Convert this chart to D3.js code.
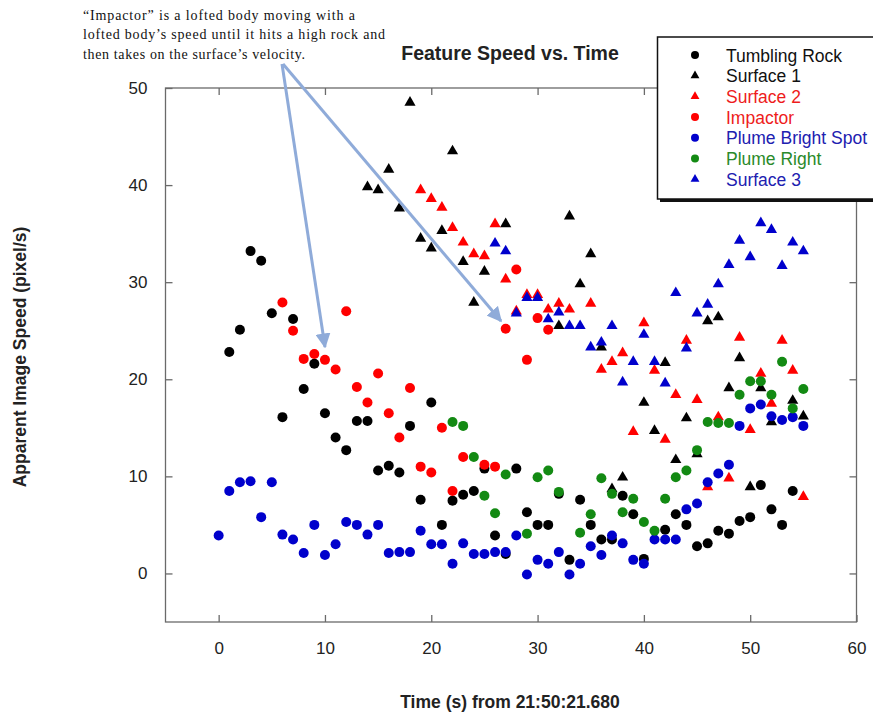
<!DOCTYPE html>
<html>
<head>
<meta charset="utf-8">
<script src="https://cdn.jsdelivr.net/npm/d3@7"></script>
<style>
  html, body { margin: 0; padding: 0; background: #fff; }
  svg { display: block; font-family: Arial, "Liberation Sans", sans-serif; }
</style>
</head>
<body>
<svg id="chart" width="873" height="715"></svg>
<script>
// Feature speed measurements, one sample per second, [time (s), speed (pixel/s)]
const tumblingRock = [
  [1,22.8],[2,25.1],[3,33.2],[4,32.2],[5,26.8],[6,16.1],[7,26.2],[8,19.0],[9,21.6],[10,16.5],
  [11,14.0],[12,12.7],[13,15.7],[14,15.7],[15,10.6],[16,11.1],[17,10.4],[18,15.2],[19,7.6],[20,17.6],
  [21,5.0],[22,7.5],[23,8.1],[24,8.5],[25,10.8],[26,3.9],[27,2.0],[28,10.8],[29,6.3],[30,5.0],
  [31,5.0],[32,8.2],[33,1.4],[34,7.6],[35,5.0],[36,3.5],[37,3.5],[38,8.0],[39,6.1],[40,1.5],
  [42,4.5],[43,6.1],[44,5.0],[45,2.8],[46,3.1],[47,4.4],[48,4.1],[49,5.4],[50,5.8],[51,9.1],
  [52,6.6],[53,5.0],[54,8.5]
];
const surface1 = [
  [14,39.8],[15,39.5],[16,41.6],[17,37.6],[18,48.5],[19,34.5],[20,33.5],[21,35.3],[22,43.5],[23,32.1],
  [24,27.9],[25,31.1],[27,36.0],[32,25.5],[33,36.8],[34,29.8],[35,32.9],[36,23.3],[37,8.7],[38,9.9],
  [40,17.6],[41,14.7],[42,21.7],[43,11.7],[44,16.0],[45,12.3],[46,26.0],[47,26.4],[48,19.1],[49,22.2],
  [50,8.9],[51,19.1],[52,15.6],[54,17.8],[55,16.2]
];
const surface2 = [
  [19,39.5],[20,38.6],[21,37.7],[22,35.6],[23,34.1],[24,32.9],[25,32.7],[26,36.0],[27,30.3],[28,27.0],
  [29,28.7],[30,28.7],[31,27.2],[32,27.8],[33,27.2],[35,27.8],[36,21.0],[37,21.8],[38,22.7],[39,14.6],
  [40,25.8],[41,20.9],[42,13.8],[43,18.4],[44,24.0],[45,17.9],[46,8.9],[47,16.1],[48,9.8],[49,24.3],
  [50,14.8],[51,20.6],[52,17.5],[53,24.0],[54,20.9],[55,7.9]
];
const impactor = [
  [6,27.9],[7,25.0],[8,22.1],[9,22.6],[10,22.0],[11,21.0],[12,27.0],[13,19.2],[14,17.6],[15,20.6],
  [16,16.5],[17,14.0],[18,19.1],[19,11.0],[20,10.4],[21,15.0],[22,8.5],[23,12.0],[25,11.2],[26,11.0],
  [27,25.2],[28,31.3],[29,22.0],[30,26.3],[31,25.1]
];
const plumeBrightSpot = [
  [0,3.9],[1,8.5],[2,9.4],[3,9.5],[4,5.8],[5,9.4],[6,4.0],[7,3.5],[8,2.1],[9,5.0],
  [10,1.9],[11,3.0],[12,5.3],[13,5.0],[14,4.0],[15,5.0],[16,2.1],[17,2.2],[18,2.2],[19,4.4],
  [20,3.0],[21,3.0],[22,1.0],[23,3.1],[24,2.0],[25,2.0],[26,2.2],[27,2.2],[28,3.9],[29,-0.1],
  [30,1.4],[31,1.0],[32,2.2],[33,-0.1],[34,1.0],[35,2.8],[36,1.9],[37,3.9],[38,3.1],[39,1.4],
  [40,1.0],[41,3.5],[42,3.5],[43,3.5],[44,6.6],[45,7.2],[46,9.4],[47,10.3],[48,11.2],[49,15.2],
  [50,17.0],[51,17.4],[52,16.2],[53,15.8],[54,16.1],[55,15.2]
];
const plumeRight = [
  [22,15.6],[23,15.2],[24,12.0],[25,8.0],[26,6.2],[27,10.2],[29,4.1],[30,9.9],[31,10.6],[32,8.4],
  [34,4.2],[35,6.1],[36,9.8],[37,8.2],[38,6.3],[39,7.7],[40,5.3],[41,4.4],[42,7.7],[43,9.9],
  [44,10.6],[45,12.7],[46,15.6],[47,15.5],[48,15.5],[49,18.4],[50,19.8],[51,19.8],[52,18.4],[53,21.8],
  [54,17.0],[55,19.0]
];
const surface3 = [
  [26,34.0],[27,33.2],[28,26.8],[29,28.4],[30,28.4],[31,26.2],[32,26.9],[33,25.5],[34,25.5],[35,23.3],
  [36,23.8],[37,25.5],[38,19.7],[39,21.8],[40,24.6],[41,21.8],[42,19.6],[43,28.9],[44,23.2],[45,26.8],
  [46,27.7],[47,29.8],[48,31.8],[49,34.3],[50,32.6],[51,36.1],[52,35.4],[53,31.7],[54,34.1],[55,33.2]
];

const seriesNames = ["Tumbling Rock","Surface 1","Surface 2","Impactor","Plume Bright Spot","Plume Right","Surface 3"];
const seriesData = [tumblingRock, surface1, surface2, impactor, plumeBrightSpot, plumeRight, surface3];
const seriesShapes = ["circle","triangle","triangle","circle","circle","circle","triangle"];
const seriesColors = ["#000000","#000000","#ff0000","#ff0000","#0000cc","#138a13","#0000cc"];
const labelColors = ["#111111","#111111","#ee1c1c","#ee1c1c","#2020b0","#2a8a2a","#2020b0"];

const xTicks = [0,10,20,30,40,50,60];
const yTicks = [0,10,20,30,40,50];

const titleText = "Feature Speed vs. Time";
const xLabel = "Time (s) from 21:50:21.680";
const yLabel = "Apparent Image Speed (pixel/s)";
const noteLines = [
  "\u201CImpactor\u201D is a lofted body moving with a",
  "lofted body\u2019s speed until it hits a high rock and",
  "then takes on the surface\u2019s velocity."
];

const svg = d3.select("#chart");

const x = d3.scaleLinear().domain([-5, 60]).range([165.5, 856.5]);
const y = d3.scaleLinear().domain([-5, 50]).range([622, 88]);

const frameColor = "#6a6a6a";

// plot frame
svg.append("rect")
  .attr("x", x(-5)).attr("y", y(50))
  .attr("width", x(60) - x(-5)).attr("height", y(-5) - y(50))
  .attr("fill", "none").attr("stroke", frameColor).attr("stroke-width", 1.3);

// axes with inward ticks on all four sides
const tickLen = 7;
const bottomAxis = d3.axisBottom(x).tickValues(xTicks).tickSize(-tickLen).tickPadding(20).tickFormat(d3.format("d"));
const topAxis = d3.axisTop(x).tickValues(xTicks.filter(v => v < 60)).tickSize(-tickLen).tickFormat("");
const leftAxis = d3.axisLeft(y).tickValues(yTicks).tickSize(-tickLen).tickPadding(18).tickFormat(d3.format("d"));
const rightAxis = d3.axisRight(y).tickValues(yTicks).tickSize(-tickLen).tickFormat("");

function styleAxis(g) {
  g.select(".domain").remove();
  g.selectAll(".tick line").attr("stroke", frameColor).attr("stroke-width", 1.3);
  g.selectAll(".tick text").attr("fill", "#222").style("font-size", "17px")
    .style("font-family", "Arial, 'Liberation Sans', sans-serif");
}
svg.append("g").attr("transform", `translate(0,${y(-5)})`).call(bottomAxis).call(styleAxis);
svg.append("g").attr("transform", `translate(0,${y(50)})`).call(topAxis).call(styleAxis);
svg.append("g").attr("transform", `translate(${x(-5)},0)`).call(leftAxis).call(styleAxis);
svg.append("g").attr("transform", `translate(${x(60)},0)`).call(rightAxis).call(styleAxis);

// data markers
const triangle = d3.symbol().type(d3.symbolTriangle).size(54);
seriesData.forEach((data, i) => {
  const g = svg.append("g").attr("class", "series");
  if (seriesShapes[i] === "circle") {
    g.selectAll("circle").data(data).join("circle")
      .attr("cx", d => x(d[0])).attr("cy", d => y(d[1])).attr("r", 5)
      .attr("fill", seriesColors[i]);
  } else {
    g.selectAll("path").data(data).join("path")
      .attr("d", triangle)
      .attr("transform", d => `translate(${x(d[0])},${y(d[1])})`)
      .attr("fill", seriesColors[i]);
  }
});

// title and axis labels
svg.append("text").attr("x", 510).attr("y", 60).attr("text-anchor", "middle")
  .style("font-weight", "bold").style("font-size", "19.5px").attr("fill", "#222").text(titleText);
svg.append("text").attr("x", 510).attr("y", 708).attr("text-anchor", "middle")
  .style("font-weight", "bold").style("font-size", "17.5px").attr("fill", "#222").text(xLabel);
svg.append("text").attr("transform", "translate(26,357) rotate(-90)").attr("text-anchor", "middle")
  .style("font-weight", "bold").style("font-size", "17.5px").attr("fill", "#222").text(yLabel);

// legend box with drop shadow
const legend = svg.append("g");
legend.append("rect").attr("x", 660).attr("y", 40).attr("width", 240).attr("height", 162).attr("fill", "#111");
legend.append("rect").attr("x", 657.5).attr("y", 37).attr("width", 240).attr("height", 162)
  .attr("fill", "#fff").attr("stroke", "#111").attr("stroke-width", 1.5);
const legendSym = d3.symbol().type(d3.symbolTriangle).size(34);
seriesNames.forEach((name, i) => {
  const cy = 55 + i * 20.7;
  if (seriesShapes[i] === "circle") {
    legend.append("circle").attr("cx", 695).attr("cy", cy).attr("r", 4).attr("fill", seriesColors[i]);
  } else {
    legend.append("path").attr("d", legendSym).attr("transform", `translate(695,${cy})`).attr("fill", seriesColors[i]);
  }
  legend.append("text").attr("x", 726).attr("y", cy + 6.5).style("font-size", "17.5px")
    .attr("fill", labelColors[i]).text(name);
});

// annotation note with pointer arrows
const note = svg.append("g").style("font-family", "'Liberation Serif', 'Times New Roman', serif")
  .style("font-size", "14px").attr("fill", "#111");
const noteWidths = [272, 302, 222];
noteLines.forEach((line, i) => {
  note.append("text").attr("x", 83).attr("y", 20 + i * 19.3)
    .attr("textLength", noteWidths[i]).attr("lengthAdjust", "spacing").text(line);
});

const arrowColor = "#8fabd9";
svg.append("defs").append("marker")
  .attr("id", "head").attr("viewBox", "0 0 10 10").attr("refX", 9).attr("refY", 5)
  .attr("markerWidth", 5).attr("markerHeight", 5).attr("markerUnits", "strokeWidth").attr("orient", "auto")
  .append("path").attr("d", "M0,0 L10,5 L0,10 z").attr("fill", arrowColor);

const arrows = [[[282, 64], [325, 347]], [[283, 64], [501, 321]]];
arrows.forEach(a => {
  svg.append("line").attr("x1", a[0][0]).attr("y1", a[0][1]).attr("x2", a[1][0]).attr("y2", a[1][1])
    .attr("stroke", arrowColor).attr("stroke-width", 3).attr("marker-end", "url(#head)");
});
</script>
</body>
</html>
